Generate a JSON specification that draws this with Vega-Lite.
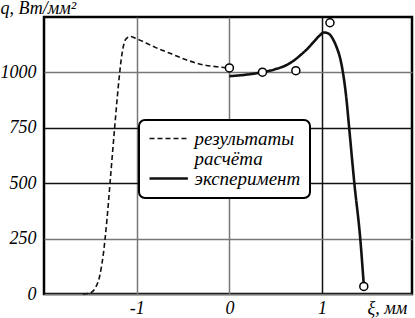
{
  "$schema": "https://vega.github.io/schema/vega-lite/v6.json",
  "autosize": "none",
  "width": 368,
  "height": 277,
  "padding": {"left": 44, "top": 17, "right": 3, "bottom": 24},
  "background": "white",
  "config": {
    "view": {"stroke": "black", "strokeWidth": 2.5},
    "font": "Liberation Serif"
  },
  "datasets": {
    "lines": [
      {"series": "calc", "x": -1.58, "q": 0},
      {"series": "calc", "x": -1.50, "q": 5},
      {"series": "calc", "x": -1.45, "q": 25},
      {"series": "calc", "x": -1.40, "q": 80},
      {"series": "calc", "x": -1.36, "q": 180},
      {"series": "calc", "x": -1.32, "q": 340},
      {"series": "calc", "x": -1.28, "q": 540},
      {"series": "calc", "x": -1.24, "q": 740},
      {"series": "calc", "x": -1.20, "q": 930},
      {"series": "calc", "x": -1.16, "q": 1080},
      {"series": "calc", "x": -1.12, "q": 1148},
      {"series": "calc", "x": -1.07, "q": 1162},
      {"series": "calc", "x": -1.00, "q": 1152},
      {"series": "calc", "x": -0.90, "q": 1133},
      {"series": "calc", "x": -0.80, "q": 1113},
      {"series": "calc", "x": -0.64, "q": 1086},
      {"series": "calc", "x": -0.46, "q": 1056},
      {"series": "calc", "x": -0.28, "q": 1034},
      {"series": "calc", "x": -0.10, "q": 1024},
      {"series": "calc", "x": 0.0, "q": 1020},
      {"series": "exp", "x": 0.0, "q": 983},
      {"series": "exp", "x": 0.12, "q": 987},
      {"series": "exp", "x": 0.224, "q": 992},
      {"series": "exp", "x": 0.357, "q": 1001},
      {"series": "exp", "x": 0.50, "q": 1015},
      {"series": "exp", "x": 0.62, "q": 1034},
      {"series": "exp", "x": 0.70, "q": 1055},
      {"series": "exp", "x": 0.764, "q": 1077},
      {"series": "exp", "x": 0.85, "q": 1110},
      {"series": "exp", "x": 0.908, "q": 1137},
      {"series": "exp", "x": 0.97, "q": 1165},
      {"series": "exp", "x": 1.02, "q": 1180},
      {"series": "exp", "x": 1.07, "q": 1175},
      {"series": "exp", "x": 1.12, "q": 1148},
      {"series": "exp", "x": 1.16, "q": 1110},
      {"series": "exp", "x": 1.20, "q": 1055},
      {"series": "exp", "x": 1.26, "q": 890},
      {"series": "exp", "x": 1.294, "q": 741},
      {"series": "exp", "x": 1.348, "q": 500},
      {"series": "exp", "x": 1.413, "q": 244},
      {"series": "exp", "x": 1.45, "q": 40}
    ],
    "points": [
      {"x": 0.0, "q": 1020},
      {"x": 0.357, "q": 1001},
      {"x": 0.717, "q": 1008},
      {"x": 1.085, "q": 1224},
      {"x": 1.45, "q": 34}
    ]
  },
  "encoding": {
    "x": {
      "field": "x", "type": "quantitative",
      "scale": {"domain": [-2.0, 1.97], "nice": false, "zero": false},
      "axis": {
        "values": [-1, 0, 1],
        "format": "d",
        "labelExpr": "datum.value < 0 ? '-' + abs(datum.value) : '' + datum.value",
        "domain": false, "ticks": false, "tickSize": 0,
        "labelFont": "Liberation Serif", "labelFontStyle": "italic", "labelFontSize": 18,
        "labelColor": "black", "labelPadding": 5,
        "grid": true,
        "gridColor": {"condition": {"test": "datum.value === 1", "value": "#111111"}, "value": "#777777"},
        "gridWidth": 1.5,
        "title": "ξ, мм",
        "titleFont": "Liberation Serif", "titleFontStyle": "italic", "titleFontWeight": "normal",
        "titleFontSize": 18, "titleColor": "black",
        "titleAlign": "left", "titleBaseline": "alphabetic",
        "titleX": 323, "titleY": 19
      }
    },
    "y": {
      "field": "q", "type": "quantitative",
      "scale": {"domain": [0, 1250], "nice": false},
      "axis": {
        "values": [0, 250, 500, 750, 1000],
        "format": "d",
        "domain": false, "ticks": false, "tickSize": 0,
        "labelFont": "Liberation Serif", "labelFontStyle": "italic", "labelFontSize": 18,
        "labelColor": "black", "labelPadding": 8,
        "grid": true,
        "gridColor": {"condition": {"test": "datum.value === 500 || datum.value === 750", "value": "#111111"}, "value": "#777777"},
        "gridWidth": 1.5,
        "title": "q, Вт/мм²",
        "titleAngle": 0,
        "titleFont": "Liberation Serif", "titleFontStyle": "italic", "titleFontWeight": "normal",
        "titleFontSize": 18, "titleColor": "black",
        "titleAlign": "left", "titleBaseline": "alphabetic",
        "titleX": -44, "titleY": -4
      }
    }
  },
  "layer": [
    {
      "data": {"name": "lines"},
      "mark": {"type": "line", "interpolate": "monotone", "color": "#111111"},
      "encoding": {
        "strokeDash": {
          "field": "series", "type": "nominal",
          "scale": {"domain": ["calc", "calc2", "exp"], "range": [[5, 3], [0, 100], [1, 0]]},
          "legend": {
            "orient": "none", "legendX": 95, "legendY": 103,
            "title": null,
            "symbolType": "M-2.4,0H2.4", "symbolSize": 256,
            "symbolOffset": 11.2,
            "symbolStrokeColor": "#111111",
            "labelFont": "Liberation Serif", "labelFontStyle": "italic", "labelFontSize": 19,
            "labelColor": "black", "labelOffset": 16.4,
            "rowPadding": 0,
            "labelExpr": "datum.value == 'calc' ? 'результаты' : datum.value == 'calc2' ? 'расчёта' : 'эксперимент'",
            "strokeColor": "black", "fillColor": "white", "cornerRadius": 6, "padding": 9,
            "encode": {
              "legend": {"update": {"strokeWidth": {"value": 2}}}
            }
          }
        },
        "strokeWidth": {
          "field": "series", "type": "nominal",
          "scale": {"type": "ordinal", "domain": ["calc", "calc2", "exp"], "range": [1.6, 1, 2.6]},
          "legend": null
        }
      }
    },
    {
      "data": {"name": "points"},
      "mark": {"type": "point", "shape": "circle", "filled": true, "fill": "white", "stroke": "black", "strokeWidth": 1.5, "size": 64, "opacity": 1}
    }
  ]
}
